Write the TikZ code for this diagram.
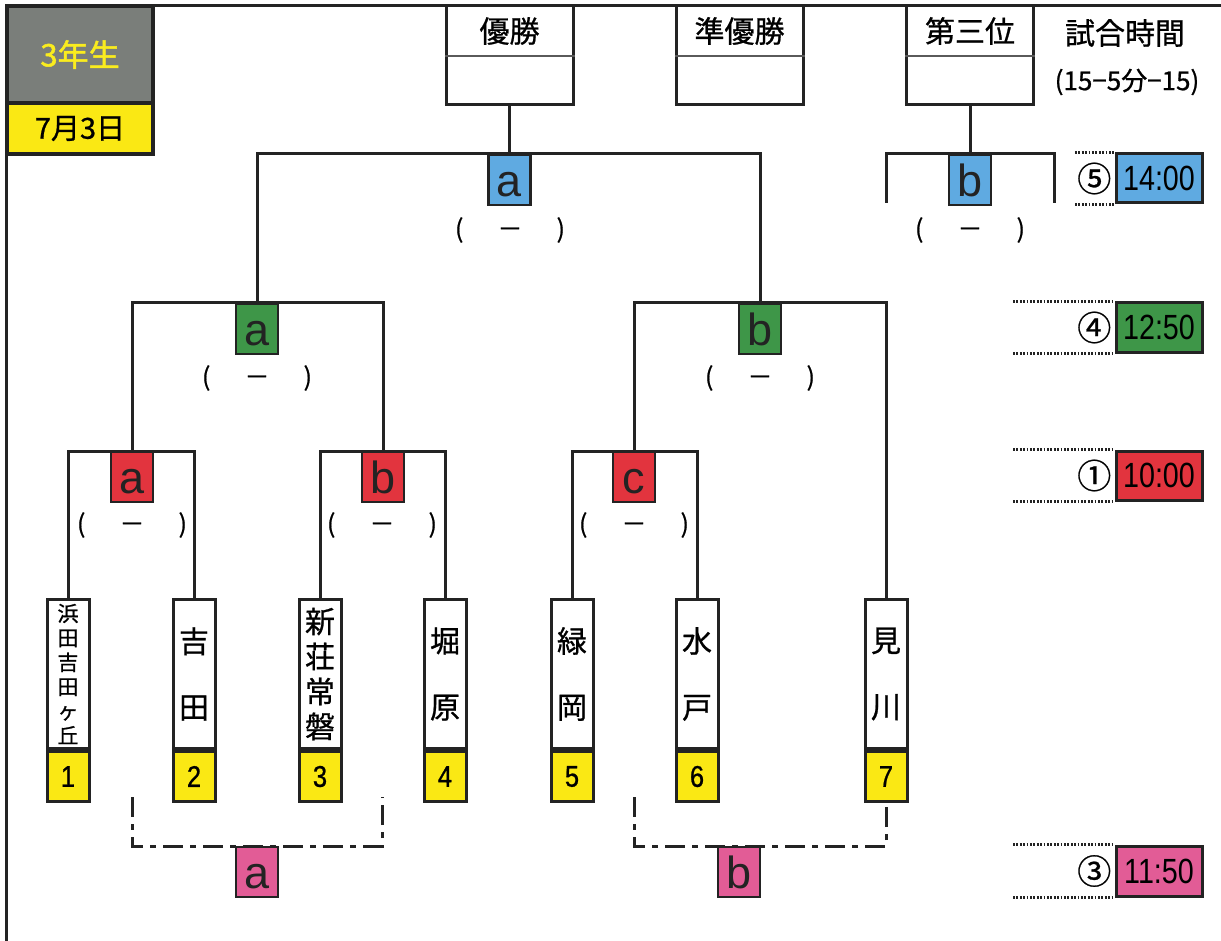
\documentclass[tikz,border=0pt]{standalone}
\usepackage{fontspec}
\setmainfont{Liberation Sans}
\newfontfamily\jp[FakeBold=0.8]{Noto Sans CJK JP}
\newfontfamily\jpb[FakeBold=1.6]{Noto Sans CJK JP}
\newfontfamily\nar[FakeStretch=0.82]{Liberation Sans}
\newfontfamily\narb[FakeStretch=0.85,FakeBold=0.8]{Liberation Sans}
\definecolor{cblue}{RGB}{95,170,225}
\definecolor{cgreen}{RGB}{62,150,72}
\definecolor{cred}{RGB}{226,52,62}
\definecolor{cpink}{RGB}{226,92,150}
\definecolor{cyel}{RGB}{250,232,20}
\definecolor{cgray}{RGB}{122,126,122}
\definecolor{cyeltxt}{RGB}{250,236,30}
\definecolor{ink}{RGB}{35,35,35}
\newcommand\fs[1]{\fontsize{#1}{#1}\selectfont}
\newcommand\parpair{\makebox[110pt]{(\hfill－\hfill)}}
\begin{document}
\begin{tikzpicture}[x=1pt,y=-1pt,
  line/.style={line width=3pt, draw=ink},
  dashline/.style={line width=3pt, draw=ink, dash pattern=on 20pt off 7pt on 6pt off 7pt},
  dotline/.style={line width=3pt, draw=ink, dash pattern=on 1.7pt off 1.7pt},
  match/.style={draw=ink, line width=2.4pt, minimum width=42pt, minimum height=50pt, inner sep=0pt, anchor=north, font=\fs{45}, text height=32pt, text depth=0pt, text=ink},
  team/.style={draw=ink, fill=white, line width=3pt, minimum width=42pt, minimum height=149pt, inner sep=0pt, anchor=north, align=center},
  num/.style={draw=ink, fill=cyel, line width=3pt, minimum width=42pt, minimum height=50pt, inner sep=0pt, anchor=north, font=\narb\fs{30}},
  topbox/.style={draw=ink, fill=white, line width=3pt, minimum width=127pt, minimum height=99pt, inner sep=0pt},
  toptitle/.style={minimum height=50pt, inner sep=0pt, font=\jp\fs{30}},
  score/.style={inner sep=0pt, font=\jp\fs{25}},
  timebox/.style={draw=ink, line width=3pt, minimum width=86pt, minimum height=49pt, inner sep=0pt, font=\nar\fs{35}},
  circ/.style={inner sep=0pt, font=\jp\fs{34}}
]
\useasboundingbox (0,0) rectangle (1221,941);
\fill[white] (0,0) rectangle (1221,941);

% frame
\coordinate (fbl) at (6,941);
\coordinate (ftl) at (6,6);
\coordinate (ftr) at (1221,6);
\draw[line] (fbl) -- (ftl) -- (ftr);

% header
\node[draw=ink, fill=cgray, line width=3.5pt, minimum width=146pt, minimum height=97pt, inner sep=0pt, font=\jpb\fs{31}, text=cyeltxt] (grade) at (80,54.5) {3年生};
\node[draw=ink, fill=cyel, line width=3.5pt, minimum width=146pt, minimum height=51pt, inner sep=0pt, font=\jp\fs{29}] (date) at (80,128.5) {7月3日};

% top result boxes
\node[topbox] (win) at (509.5,55.5) {};
\node[toptitle] (winT) at (509.5,31) {優勝};
\node[topbox] (run) at (739.5,55.5) {};
\node[toptitle] (runT) at (739.5,31) {準優勝};
\node[topbox] (tp) at (970,55.5) {};
\node[toptitle] (tpT) at (970,31) {第三位};
\draw[line width=1.4pt, draw=ink!75] (win.west |- winT.south) -- (win.east |- winT.south);
\draw[line width=1.4pt, draw=ink!75] (run.west |- runT.south) -- (run.east |- runT.south);
\draw[line width=1.4pt, draw=ink!75] (tp.west |- tpT.south) -- (tp.east |- tpT.south);

\node[font=\jp\fs{30}] (jikan) at (1125,33) {試合時間};
\node[font=\jp\fs{26}] (rule) at (1127,82) {(15−5分−15)};

% match boxes
\node[match, fill=cblue] (fa) at (509.5,154) {a};
\node[match, fill=cblue] (fb) at (970,154) {b};
\node[match, fill=cgreen] (sa) at (257,303) {a};
\node[match, fill=cgreen] (sb) at (760,303) {b};
\node[match, fill=cred] (ra) at (132,451) {a};
\node[match, fill=cred] (rb) at (383,451) {b};
\node[match, fill=cred] (rc) at (634,451) {c};
\coordinate (pa) at (257,846);
\coordinate (pb) at (739,846);

% scores
\node[score] (sfa) at (510,230) {\parpair};
\node[score] (sfb) at (970,230) {\parpair};
\node[score] (ssa) at (257,378) {\parpair};
\node[score] (ssb) at (760,378) {\parpair};
\node[score] (sra) at (132,525) {\parpair};
\node[score] (srb) at (382,525) {\parpair};
\node[score] (src) at (634,525) {\parpair};

% teams
\node[team, font=\jp\fontsize{21}{24.4}\selectfont] (t1) at (68,598) {浜\\田\\吉\\田\\ヶ\\丘};
\node[team, font=\jp\fontsize{30}{66}\selectfont] (t2) at (194,598) {吉\\田};
\node[team, font=\jp\fontsize{30}{35}\selectfont] (t3) at (320,598) {新\\荘\\常\\磐};
\node[team, font=\jp\fontsize{30}{66}\selectfont] (t4) at (445,598) {堀\\原};
\node[team, font=\jp\fontsize{30}{66}\selectfont] (t5) at (572,598) {緑\\岡};
\node[team, font=\jp\fontsize{30}{66}\selectfont] (t6) at (697,598) {水\\戸};
\node[team, font=\jp\fontsize{30}{66}\selectfont] (t7) at (886,598) {見\\川};
\foreach \i in {1,...,7}{
  \node[num] (n\i) at (t\i.south) {\i};
}

% bracket lines
\draw[line] (win.south) -- (fa.north);
\draw[line] (tp.south) -- (fb.north);
\draw[line] (sa.north) -- (sa.north |- fa.north) -- (sb.north |- fa.north) -- (sb.north);
\coordinate (c3l) at (886,203);
\coordinate (c3r) at (1054,203);
\draw[line] (c3l) -- (c3l |- fb.north) -- (c3r |- fb.north) -- (c3r);
\draw[line] (ra.north) -- (ra.north |- sa.north) -- (rb.north |- sa.north) -- (rb.north);
\draw[line] (rc.north) -- (rc.north |- sb.north) -- (t7.north |- sb.north) -- (t7.north);
\draw[line] (t1.north) -- (t1.north |- ra.north) -- (t2.north |- ra.north) -- (t2.north);
\draw[line] (t3.north) -- (t3.north |- rb.north) -- (t4.north |- rb.north) -- (t4.north);
\draw[line] (t5.north) -- (t5.north |- rc.north) -- (t6.north |- rc.north) -- (t6.north);

% third-place brackets (dash-dot)
\coordinate (da1) at (132,797);
\coordinate (da2) at (382,797);
\draw[dashline] (da1) -- (da1 |- pa) -- (da2 |- pa) -- (da2);
\coordinate (db1) at (634,797);
\draw[dashline] (db1) -- (db1 |- pb) -- (n7.south |- pb) -- (n7.south);
\node[match, fill=cpink] (ma) at (pa) {a};
\node[match, fill=cpink] (mb) at (pb) {b};

% times
\node[timebox, fill=cblue] (tm5) at (1159,178.5) {14:00};
\node[timebox, fill=cgreen] (tm4) at (1159,327.5) {12:50};
\node[timebox, fill=cred] (tm1) at (1159,475.5) {10:00};
\node[timebox, fill=cpink, minimum height=50pt] (tm3) at (1159,871) {11:50};
\node[circ, anchor=east] (o5) at ([xshift=-3pt]tm5.west) {⑤};
\node[circ, anchor=east] (o4) at ([xshift=-3pt]tm4.west) {④};
\node[circ, anchor=east] (o1) at ([xshift=-3pt]tm1.west) {①};
\node[circ, anchor=east] (o3) at ([xshift=-3pt]tm3.west) {③};
\coordinate (d5) at (1075,0);
\coordinate (d4) at (1013,0);
\draw[dotline] (d5 |- tm5.north) -- (tm5.north west);
\draw[dotline] (d5 |- tm5.south) -- (tm5.south west);
\draw[dotline] (d4 |- tm4.north) -- (tm4.north west);
\draw[dotline] (d4 |- tm4.south) -- (tm4.south west);
\draw[dotline] (d4 |- tm1.north) -- (tm1.north west);
\draw[dotline] (d4 |- tm1.south) -- (tm1.south west);
\draw[dotline] (d4 |- tm3.north) -- (tm3.north west);
\draw[dotline] (d4 |- tm3.south) -- (tm3.south west);
\end{tikzpicture}
\end{document}
